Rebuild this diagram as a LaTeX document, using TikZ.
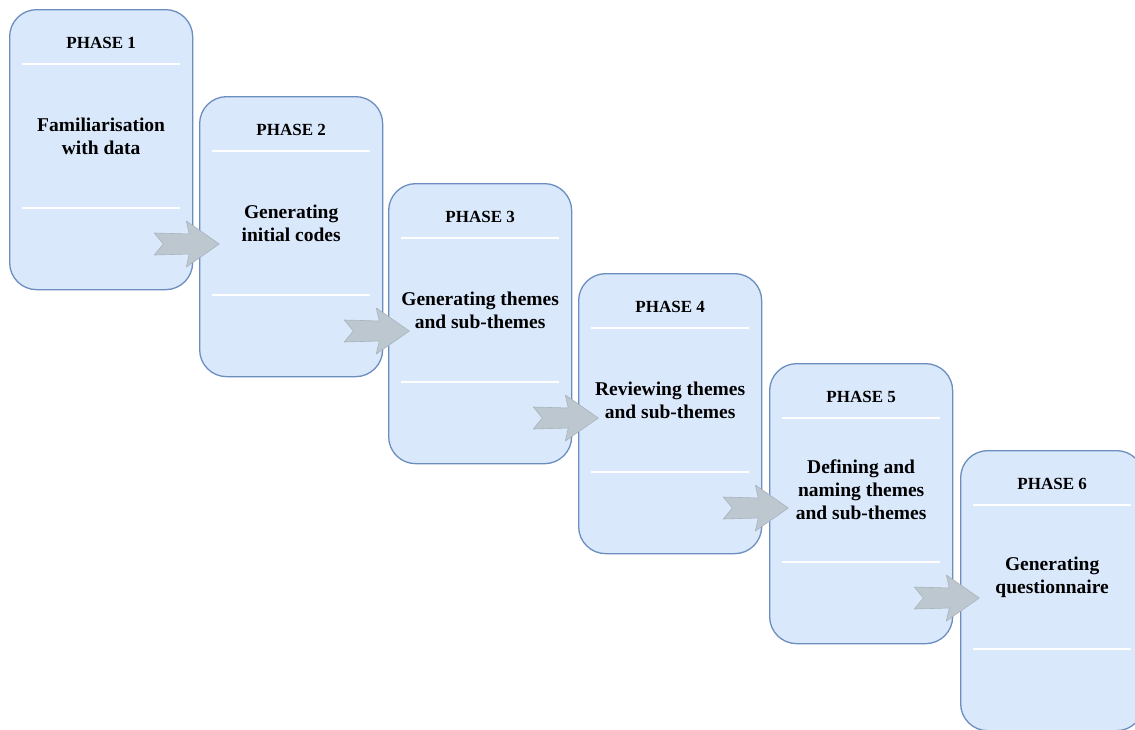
\documentclass[tikz,border=0pt]{standalone}
\usepackage{fontspec}
\setmainfont{Liberation Serif}
\usetikzlibrary{calc}
\definecolor{boxfill}{HTML}{DAE8FC}
\definecolor{boxline}{HTML}{6C8EBF}
\definecolor{arrfill}{HTML}{BCC7CF}
\definecolor{arrline}{HTML}{A8B3BC}
\tikzset{
  phasebox/.style={draw=boxline, fill=boxfill, line width=1.3pt, rounded corners=27pt,
    minimum width=183pt, minimum height=280pt, anchor=north west, inner sep=0pt},
  sepline/.style={draw=white, line width=1.2pt},
  headtext/.style={font=\bfseries\fontsize{17}{20}\selectfont, inner sep=0pt},
  maintext/.style={font=\bfseries\fontsize{19.5}{23}\selectfont, align=center, inner sep=0pt},
  notcharrow/.pic={
    \filldraw[fill=arrfill, draw=arrline, line width=0.6pt, line join=round]
      (0,-11) -- (35,-10) -- (32,-23) -- (65,0) -- (32,23) -- (35,10) -- (0,11) -- (9,0) -- cycle;
  }
}
\begin{document}
\begin{tikzpicture}[x=1pt, y=-1pt]
\useasboundingbox (0,0) rectangle (1135,729);
\clip (0,0) rectangle (1135,729);

% phase boxes, each with a header, two separator rules and a body text
\foreach \k/\x/\y/\body in {
  1/9/9/{Familiarisation\\with data},
  2/199/96/{Generating\\initial codes},
  3/388/183/{Generating themes\\and sub-themes},
  4/578/273/{Reviewing themes\\and sub-themes},
  5/769/363/{Defining and\\naming themes\\and sub-themes},
  6/960/450/{Generating\\questionnaire}}{
  \node[phasebox] (b\k) at (\x,\y) {};
  \draw[sepline] ($(b\k.north west)+(13,55)$) -- ($(b\k.north east)+(-13,55)$);
  \draw[sepline] ($(b\k.north west)+(13,199)$) -- ($(b\k.north east)+(-13,199)$);
  \node[headtext] (h\k) at ($(b\k.north)+(0,34)$) {PHASE \k};
  \node[maintext] (t\k) at ($(b\k.north)+(0,127)$) {\body};
}

% notched arrows leading from each phase into the next
\foreach \k in {1,...,5}{
  \coordinate (a\k) at ($(b\k.north east)+(-39,235)$);
  \pic at (a\k) {notcharrow};
}
\end{tikzpicture}
\end{document}
